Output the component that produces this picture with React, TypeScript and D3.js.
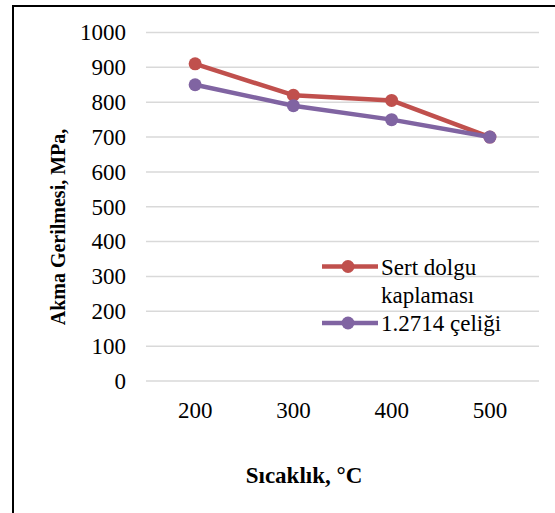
import React from "react";
import * as d3 from "d3";

const categories = ["200", "300", "400", "500"];
const seriesNames = ["Sert dolgu kaplaması", "1.2714 çeliği"];
const sertDolgu = [910, 820, 805, 700];
const celik = [850, 790, 750, 700];
const yTicks = [0, 100, 200, 300, 400, 500, 600, 700, 800, 900, 1000];
const colors = ["#C0504D", "#8064A2"];

const W = 555;
const H = 513;
const FONT = "Liberation Serif";
const tStyle: React.CSSProperties = { fontFamily: FONT };

export default function App() {
  const x = d3.scaleBand<string>().domain(categories).range([146, 539]);
  const y = d3.scaleLinear().domain([0, 1000]).range([381, 32.5]);
  const line = d3
    .line<number>()
    .x((_, i) => (x(categories[i]) as number) + x.bandwidth() / 2)
    .y((v) => y(v));
  const series = [sertDolgu, celik];

  return (
    <svg
      width={W}
      height={H}
      style={{ position: "absolute", left: 0, top: 0, background: "#fff", fontFamily: FONT }}
    >
      <rect x={0} y={0} width={W} height={H} fill="#fff" />
      <rect x={13} y={6} width={700} height={700} fill="none" stroke="#000" strokeWidth={2} />
      {yTicks.map((t) => (
        <g key={t}>
          <line x1={146} x2={539} y1={y(t)} y2={y(t)} stroke="#d9d9d9" strokeWidth={1.5} />
          <text x={126} y={y(t)} dy="0.34em" textAnchor="end" fontSize={23} fill="#000" style={tStyle}>
            {t}
          </text>
        </g>
      ))}
      {categories.map((c) => (
        <text
          key={c}
          x={(x(c) as number) + x.bandwidth() / 2}
          y={418}
          textAnchor="middle"
          fontSize={23}
          fill="#000"
          style={tStyle}
        >
          {c}
        </text>
      ))}
      {series.map((s, si) => (
        <g key={si}>
          <path d={line(s) || ""} fill="none" stroke={colors[si]} strokeWidth={4.5} strokeLinejoin="round" />
          {s.map((v, i) => (
            <circle
              key={i}
              cx={(x(categories[i]) as number) + x.bandwidth() / 2}
              cy={y(v)}
              r={6.5}
              fill={colors[si]}
            />
          ))}
        </g>
      ))}
      {/* legend */}
      <g>
        <line x1={322} x2={378} y1={266.5} y2={266.5} stroke={colors[0]} strokeWidth={4.5} />
        <circle cx={348} cy={266.5} r={6.5} fill={colors[0]} />
        <text x={381} y={275} fontSize={23} fill="#000" style={tStyle}>Sert dolgu</text>
        <text x={381} y={303} fontSize={23} fill="#000" style={tStyle}>kaplaması</text>
        <line x1={322} x2={378} y1={323} y2={323} stroke={colors[1]} strokeWidth={4.5} />
        <circle cx={348} cy={323} r={6.5} fill={colors[1]} />
        <text x={381} y={331} fontSize={23} fill="#000" style={tStyle}>{seriesNames[1]}</text>
      </g>
      <text
        transform={`translate(65,227) rotate(-90)`}
        textAnchor="middle"
        fontSize={20}
        fontWeight="bold"
        fill="#000"
        style={tStyle}
      >
        Akma Gerilmesi, MPa,
      </text>
      <text x={304} y={483} textAnchor="middle" fontSize={23} fontWeight="bold" fill="#000" style={tStyle}>
        Sıcaklık, °C
      </text>
    </svg>
  );
}
